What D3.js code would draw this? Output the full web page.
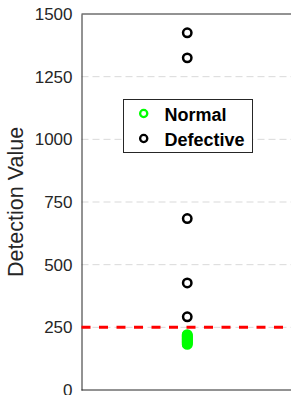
<!DOCTYPE html>
<html lang="en">
<meta charset="UTF-8">
<title>Detection Value</title>
<style>
body {margin:0; background:#fff}
svg {display:block; font-family:"Liberation Sans", Arial, sans-serif}
</style>
<body>
<div id="chart"></div>
<script src="https://d3js.org/d3.v7.min.js"></script>
<script>
// data
var normalValues = [182, 185, 188, 191, 194, 197, 200, 203, 206, 209, 212, 215, 218, 221]
var defectiveValues = [1425, 1325, 684, 427, 292]
var threshold = 250
var yTicks = [0, 250, 500, 750, 1000, 1250, 1500]
var seriesNames = ["Normal", "Defective"]
var seriesColors = ["#00ff00", "#000000"]

var width = 291, height = 395
var margin = {top: 14, right: -2, bottom: 5, left: 81.5}

var svg = d3.select("#chart")
  .append("svg")
    .attr("width", width)
    .attr("height", height)

var x = d3.scaleLinear()
  .domain([0.5, 1.5])
  .range([margin.left, width - margin.right])

var y = d3.scaleLinear()
  .domain([0, 1500])
  .range([height - margin.bottom, margin.top])

// grid lines (dashed, light gray)
svg.append("g")
  .selectAll("line")
  .data(yTicks.slice(1, -1))
  .enter().append("line")
    .attr("x1", x.range()[0])
    .attr("x2", x.range()[1])
    .attr("y1", function(d){ return y(d) })
    .attr("y2", function(d){ return y(d) })
    .attr("stroke", "#d9d9d9")
    .attr("stroke-width", 1)
    .attr("stroke-dasharray", "7,4")

// y axis
var yAxis = svg.append("g")
  .attr("transform", "translate(" + margin.left + ",0)")
  .call(d3.axisLeft(y).tickValues(yTicks).tickFormat(d3.format("d")).tickSize(0).tickPadding(9))
yAxis.select(".domain").attr("stroke", "#262626")
yAxis.selectAll("text")
  .style("font-size", "17px")
  .attr("fill", "#262626")
  .attr("font-family", "Liberation Sans, Arial, sans-serif")

// box lines top and bottom
svg.append("line")
  .attr("x1", x.range()[0]).attr("x2", x.range()[1])
  .attr("y1", y(1500)).attr("y2", y(1500))
  .attr("stroke", "#262626")
svg.append("line")
  .attr("x1", x.range()[0]).attr("x2", x.range()[1])
  .attr("y1", y(0)).attr("y2", y(0))
  .attr("stroke", "#262626")

// y label
svg.append("text")
  .attr("transform", "translate(23," + ((y(0) + y(1500)) / 2) + ") rotate(-90)")
  .style("text-anchor", "middle")
  .style("font-size", "21.5px")
  .attr("fill", "#262626")
  .text("Detection Value")

// threshold
svg.append("line")
  .attr("x1", x.range()[0]).attr("x2", x.range()[1])
  .attr("y1", y(threshold)).attr("y2", y(threshold))
  .attr("stroke", "#ff0000")
  .attr("stroke-width", 3)
  .attr("stroke-dasharray", "9,8.5")

// points
svg.append("g")
  .selectAll("circle")
  .data(normalValues)
  .enter().append("circle")
    .attr("cx", x(1))
    .attr("cy", function(d){ return y(d) })
    .attr("r", 4.3)
    .attr("fill", "none")
    .attr("stroke", seriesColors[0])
    .attr("stroke-width", 2.3)

svg.append("g")
  .selectAll("circle")
  .data(defectiveValues)
  .enter().append("circle")
    .attr("cx", x(1))
    .attr("cy", function(d){ return y(d) })
    .attr("r", 4.2)
    .attr("fill", "none")
    .attr("stroke", seriesColors[1])
    .attr("stroke-width", 2.5)

// legend
var legend = svg.append("g")
legend.append("rect")
  .attr("x", 123.5).attr("y", 99.5)
  .attr("width", 129).attr("height", 53)
  .attr("fill", "#fff")
  .attr("stroke", "#262626")
  .attr("stroke-width", 1)

legend.selectAll("circle")
  .data(seriesNames)
  .enter().append("circle")
    .attr("cx", 143.7)
    .attr("cy", function(d, i){ return 113.5 + i * 25 })
    .attr("r", 3.6)
    .attr("fill", "none")
    .attr("stroke", function(d, i){ return seriesColors[i] })
    .attr("stroke-width", 2.3)

legend.selectAll("text")
  .data(seriesNames)
  .enter().append("text")
    .attr("x", 164.5)
    .attr("y", function(d, i){ return 114.5 + i * 25 })
    .attr("dy", "0.35em")
    .style("font-size", "18px")
    .style("font-weight", "bold")
    .attr("fill", "#000")
    .text(function(d){ return d })
</script>
</body>
</html>
